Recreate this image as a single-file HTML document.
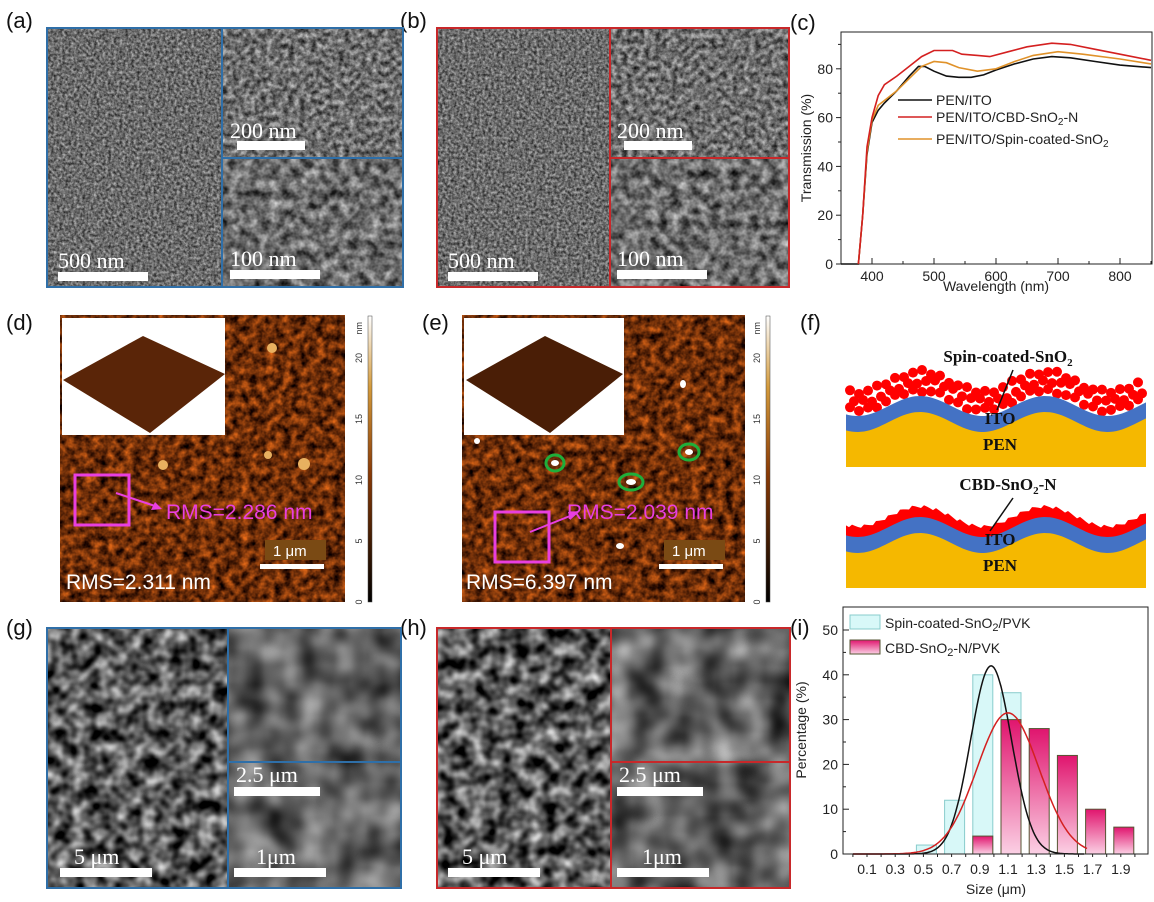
<!DOCTYPE html>
<html><head><meta charset="utf-8"><style>
html,body{margin:0;padding:0;background:#fff;width:1154px;height:902px;overflow:hidden}
svg{display:block}
filter{color-interpolation-filters:sRGB}
.lab{font-family:"Liberation Sans",sans-serif;font-size:22px;fill:#111}
.sb{font-family:"Liberation Serif",serif;font-size:22px;fill:#fff}
.ax{font-family:"Liberation Sans",sans-serif;font-size:14px;fill:#222}
.fb{font-family:"Liberation Serif",serif;font-weight:bold;font-size:17px;fill:#111}
</style></head><body>
<svg id="s" width="1154" height="902" xmlns="http://www.w3.org/2000/svg">
<defs>
<filter id="sem1" x="0" y="0" width="1" height="1" color-interpolation-filters="sRGB"><feTurbulence type="fractalNoise" baseFrequency="0.35" numOctaves="3" seed="3"/><feColorMatrix values="0.8 0 0 0 0.02 0.8 0 0 0 0.02 0.8 0 0 0 0.02 0 0 0 0 1"/></filter>
<filter id="sem2" x="0" y="0" width="1" height="1" color-interpolation-filters="sRGB"><feTurbulence type="fractalNoise" baseFrequency="0.18" numOctaves="3" seed="5"/><feColorMatrix values="0.9 0 0 0 -0.02 0.9 0 0 0 -0.02 0.9 0 0 0 -0.02 0 0 0 0 1"/></filter>
<filter id="sem3" x="0" y="0" width="1" height="1" color-interpolation-filters="sRGB"><feTurbulence type="fractalNoise" baseFrequency="0.1" numOctaves="3" seed="7"/><feColorMatrix values="1.0 0 0 0 -0.08 1.0 0 0 0 -0.08 1.0 0 0 0 -0.08 0 0 0 0 1"/></filter>
<filter id="grain" x="0" y="0" width="1" height="1" color-interpolation-filters="sRGB"><feTurbulence type="fractalNoise" baseFrequency="0.07" numOctaves="2" seed="11"/><feColorMatrix values="1.4 0 0 0 -0.35 1.4 0 0 0 -0.35 1.4 0 0 0 -0.35 0 0 0 0 1"/></filter>
<filter id="grain2" x="0" y="0" width="1" height="1" color-interpolation-filters="sRGB"><feTurbulence type="fractalNoise" baseFrequency="0.03" numOctaves="2" seed="13"/><feColorMatrix values="0.9 0 0 0 -0.07 0.9 0 0 0 -0.07 0.9 0 0 0 -0.07 0 0 0 0 1"/></filter>
<filter id="afm" x="0" y="0" width="1" height="1" color-interpolation-filters="sRGB"><feTurbulence type="fractalNoise" baseFrequency="0.12" numOctaves="3" seed="2"/><feColorMatrix values="1.2 0 0 0 -0.17 0.6 0 0 0 -0.12 0.15 0 0 0 -0.04 0 0 0 0 1"/></filter>
<linearGradient id="cb" x1="0" y1="1" x2="0" y2="0"><stop offset="0" stop-color="#000"/><stop offset="0.45" stop-color="#8a3a05"/><stop offset="0.75" stop-color="#d49a3a"/><stop offset="1" stop-color="#fff"/></linearGradient>
<linearGradient id="pk" x1="0" y1="0" x2="0" y2="1"><stop offset="0" stop-color="#e0156e"/><stop offset="1" stop-color="#fbd0e4"/></linearGradient>
</defs>

<text class="lab" x="6" y="28">(a)</text>
<text class="lab" x="400" y="28">(b)</text>
<text class="lab" x="790" y="30">(c)</text>
<text class="lab" x="6" y="330">(d)</text>
<text class="lab" x="422" y="330">(e)</text>
<text class="lab" x="800" y="330">(f)</text>
<text class="lab" x="6" y="635">(g)</text>
<text class="lab" x="400" y="635">(h)</text>
<text class="lab" x="790" y="635">(i)</text>

<rect x="47" y="28" width="356" height="259" filter="url(#sem1)"/>
<rect x="222" y="28" width="181" height="130" filter="url(#sem2)"/>
<rect x="222" y="158" width="181" height="129" filter="url(#sem3)"/>
<g fill="none" stroke="#2f6fa8" stroke-width="2"><rect x="47" y="28" width="356" height="259"/><line x1="222" y1="28" x2="222" y2="287"/><line x1="222" y1="158" x2="403" y2="158"/></g>
<text class="sb" x="230" y="138">200 nm</text><rect x="237" y="141" width="68" height="9" fill="#fff"/>
<text class="sb" x="58" y="268">500 nm</text><rect x="58" y="272" width="90" height="9" fill="#fff"/>
<text class="sb" x="230" y="266">100 nm</text><rect x="230" y="270" width="90" height="9" fill="#fff"/>

<rect x="437" y="28" width="352" height="259" filter="url(#sem1)"/>
<rect x="610" y="28" width="179" height="130" filter="url(#sem2)"/>
<rect x="610" y="158" width="179" height="129" filter="url(#sem3)"/>
<g fill="none" stroke="#c8282a" stroke-width="2"><rect x="437" y="28" width="352" height="259"/><line x1="610" y1="28" x2="610" y2="287"/><line x1="610" y1="158" x2="789" y2="158"/></g>
<text class="sb" x="617" y="138">200 nm</text><rect x="624" y="141" width="68" height="9" fill="#fff"/>
<text class="sb" x="448" y="268">500 nm</text><rect x="448" y="272" width="90" height="9" fill="#fff"/>
<text class="sb" x="617" y="266">100 nm</text><rect x="617" y="270" width="90" height="9" fill="#fff"/>

<g id="cplot"></g>

<rect x="60" y="315" width="285" height="287" filter="url(#afm)"/>
<g fill="#e8b060"><circle cx="304" cy="464" r="6"/><circle cx="272" cy="348" r="5"/><circle cx="163" cy="465" r="5"/><circle cx="268" cy="455" r="4"/></g>
<rect x="62" y="318" width="163" height="117" fill="#fff"/>
<polygon points="63,380 143,336 225,374 150,433" fill="#5a2508"/>
<rect x="75" y="475" width="54" height="50" fill="none" stroke="#e83fe0" stroke-width="3"/>
<line x1="116" y1="493" x2="158" y2="507" stroke="#e83fe0" stroke-width="2"/>
<polygon points="162,509 151,510 155,502" fill="#e83fe0"/>
<text x="166" y="519" font-family="Liberation Sans,sans-serif" font-size="21" fill="#e83fe0">RMS=2.286 nm</text>
<rect x="265" y="540" width="61" height="20" fill="#7a4a14"/>
<text x="273" y="556" font-family="Liberation Sans,sans-serif" font-size="15" fill="#fff">1 μm</text>
<rect x="260" y="564" width="64" height="5" fill="#fff"/>
<text x="66" y="589" font-family="Liberation Sans,sans-serif" font-size="21" fill="#fff">RMS=2.311 nm</text>
<rect x="368" y="316" width="4" height="286" fill="url(#cb)" stroke="#444" stroke-width="0.5"/>
<g id="cb1"></g>

<rect x="462" y="315" width="283" height="287" filter="url(#afm)"/>
<rect x="464" y="318" width="160" height="117" fill="#fff"/>
<polygon points="466,380 545,336 623,374 550,433" fill="#4a1e06"/>
<g fill="#fff"><ellipse cx="555" cy="463" rx="4" ry="3"/><ellipse cx="631" cy="482" rx="5" ry="3"/><ellipse cx="689" cy="452" rx="4" ry="3"/><ellipse cx="620" cy="546" rx="4" ry="3"/><ellipse cx="477" cy="441" rx="3" ry="3"/><ellipse cx="683" cy="384" rx="3" ry="4"/></g>
<g fill="none" stroke="#1fae3a" stroke-width="3"><ellipse cx="555" cy="463" rx="9" ry="8"/><ellipse cx="631" cy="482" rx="12" ry="8"/><ellipse cx="689" cy="452" rx="10" ry="8"/></g>
<rect x="495" y="512" width="54" height="50" fill="none" stroke="#e83fe0" stroke-width="3"/>
<line x1="530" y1="532" x2="575" y2="514" stroke="#e83fe0" stroke-width="2"/>
<polygon points="579,512 570,520 568,512" fill="#e83fe0"/>
<text x="567" y="519" font-family="Liberation Sans,sans-serif" font-size="21" fill="#e83fe0">RMS=2.039 nm</text>
<rect x="664" y="540" width="61" height="20" fill="#7a4a14"/>
<text x="672" y="556" font-family="Liberation Sans,sans-serif" font-size="15" fill="#fff">1 μm</text>
<rect x="659" y="564" width="64" height="5" fill="#fff"/>
<text x="466" y="589" font-family="Liberation Sans,sans-serif" font-size="21" fill="#fff">RMS=6.397 nm</text>
<rect x="766" y="316" width="4" height="286" fill="url(#cb)" stroke="#444" stroke-width="0.5"/>
<g id="cb2"></g>

<g id="fdiag"></g>

<rect x="47" y="628" width="354" height="260" filter="url(#grain)"/>
<rect x="228" y="628" width="173" height="134" filter="url(#grain2)"/>
<rect x="228" y="762" width="173" height="126" filter="url(#grain2)"/>
<g fill="none" stroke="#2f6fa8" stroke-width="2"><rect x="47" y="628" width="354" height="260"/><line x1="228" y1="628" x2="228" y2="888"/><line x1="228" y1="762" x2="401" y2="762"/></g>
<text class="sb" x="236" y="782">2.5 μm</text><rect x="234" y="787" width="86" height="9" fill="#fff"/>
<text class="sb" x="74" y="864">5 μm</text><rect x="60" y="868" width="92" height="9" fill="#fff"/>
<text class="sb" x="256" y="864">1μm</text><rect x="234" y="868" width="92" height="9" fill="#fff"/>

<rect x="437" y="628" width="353" height="260" filter="url(#grain)"/>
<rect x="611" y="628" width="179" height="134" filter="url(#grain2)"/>
<rect x="611" y="762" width="179" height="126" filter="url(#grain2)"/>
<g fill="none" stroke="#c8282a" stroke-width="2"><rect x="437" y="628" width="353" height="260"/><line x1="611" y1="628" x2="611" y2="888"/><line x1="611" y1="762" x2="790" y2="762"/></g>
<text class="sb" x="619" y="782">2.5 μm</text><rect x="617" y="787" width="86" height="9" fill="#fff"/>
<text class="sb" x="462" y="864">5 μm</text><rect x="448" y="868" width="92" height="9" fill="#fff"/>
<text class="sb" x="642" y="864">1μm</text><rect x="617" y="868" width="92" height="9" fill="#fff"/>

<g id="iplot"></g>
</svg>
<script>
var NS="http://www.w3.org/2000/svg";
function el(p,t,a,txt){var e=document.createElementNS(NS,t);for(var k in a)e.setAttribute(k,a[k]);if(txt!=null)e.textContent=txt;p.appendChild(e);return e;}
var c=document.getElementById('cplot');
function cx(l){return 841+(l-350)*0.62;} function cy(t){return 264-t*2.44;}
el(c,'rect',{x:841,y:32,width:311,height:232,fill:'none',stroke:'#222','stroke-width':1});
[0,20,40,60,80].forEach(function(v){el(c,'line',{x1:841,x2:836,y1:cy(v),y2:cy(v),stroke:'#222'});el(c,'text',{class:'ax',x:833,y:cy(v)+5,'text-anchor':'end','font-size':15},v);});
[10,30,50,70,90].forEach(function(v){el(c,'line',{x1:841,x2:838,y1:cy(v),y2:cy(v),stroke:'#222'});});
for(var l=400;l<=850;l+=50){el(c,'line',{x1:cx(l),x2:cx(l),y1:264,y2:l%100?261:258,stroke:'#222'});if(l%100==0)el(c,'text',{class:'ax',x:cx(l),y:281,'text-anchor':'middle','font-size':15},l);}
el(c,'text',{class:'ax',x:996,y:291,'text-anchor':'middle','font-size':15},'Wavelength (nm)');
el(c,'text',{class:'ax',transform:'translate(811,148) rotate(-90)','text-anchor':'middle','font-size':15},'Transmission (%)');
function pl(d,col){var s='';d.forEach(function(p,i){s+=(i?'L':'M')+cx(p[0]).toFixed(1)+','+cy(p[1]).toFixed(1);});el(c,'path',{d:s,fill:'none',stroke:col,'stroke-width':1.6});}
var blk=[[350,0],[378,0],[385,20],[392,45],[400,58],[410,63],[420,66],[440,71],[460,77],[475,81],[485,81],[500,79],[520,77],[540,76.5],[560,76.5],[580,77.5],[600,79.5],[630,82],[660,84],[690,85],[720,84.5],[760,83],[800,81.5],[850,80.5]];
var org=[[378,0],[385,20],[392,46],[400,59],[410,65],[420,67],[440,71],[460,76],[480,81],[500,83],[520,82.5],[540,80.5],[570,79],[600,80],[630,83],[660,85.5],[700,87],[740,86],[800,84],[850,82]];
var red=[[378,0],[385,20],[392,48],[400,60],[410,69],[420,73.5],[440,77],[460,81],[480,85],[500,87.5],[530,87.5],[545,86],[570,85.5],[590,85],[620,87],[650,89],[690,90.5],[720,90],[760,88],[800,86],[850,83.5]];
pl(blk,'#111');pl(org,'#e0922a');pl(red,'#d42020');
[['PEN/ITO','#111',100],['PEN/ITO/CBD-SnO','#d42020',117],['PEN/ITO/Spin-coated-SnO','#e0922a',139]].forEach(function(r,i){
 el(c,'line',{x1:898,x2:932,y1:r[2],y2:r[2],stroke:r[1],'stroke-width':1.6});
 var t=el(c,'text',{class:'ax',x:936,y:r[2]+5},r[0]);
 if(i>0){el(t,'tspan',{dy:3,'font-size':10},'2');if(i==1)el(t,'tspan',{dy:-3},'-N');}
});
[['cb1',372],['cb2',770]].forEach(function(q){var g=document.getElementById(q[0]);
 [0,5,10,15,20].forEach(function(v){var y=602-v*12.2;el(g,'text',{transform:'translate('+(q[1]-10)+','+y+') rotate(-90)','font-family':'Liberation Sans,sans-serif','font-size':9,fill:'#333','text-anchor':'middle'},v);});
 el(g,'text',{transform:'translate('+(q[1]-10)+',322) rotate(-90)','font-family':'Liberation Sans,sans-serif','font-size':9,fill:'#333','text-anchor':'end'},'nm');});
var f=document.getElementById('fdiag');
function wave(x,base){return base-10*Math.cos((x-920)/125*2*Math.PI);}
function drawF(y0,yb,spin,label,ly){
 var L=846,R=1146,s='M'+L+','+yb;var sb='M'+L+','+yb;
 for(var x=L;x<=R;x+=3){s+='L'+x+','+wave(x,y0).toFixed(1);}
 s+='L'+R+','+yb+'Z';
 for(var x=L;x<=R;x+=3){sb+='L'+x+','+(wave(x,y0)-16).toFixed(1);}
 sb+='L'+R+','+yb+'Z';
 if(spin){for(var x=L+4;x<=R-3;x+=9){for(var k=0;k<3;k++){var yy=wave(x,y0)-22-k*9+((x*7+k*13)%5)-2;el(f,'circle',{cx:x+(k%2)*4,cy:yy,r:5,fill:'#f00'});}}}
 else{var sr='M'+L+','+yb;for(var x=L;x<=R;x+=3){sr+='L'+x+','+(wave(x,y0)-28+((x*3)%4)).toFixed(1);}sr+='L'+R+','+yb+'Z';el(f,'path',{d:sr,fill:'#f00'});}
 el(f,'path',{d:sb,fill:'#4472c4'});
 el(f,'path',{d:s,fill:'#f5b800'});
 el(f,'text',{class:'fb',x:1000,y:y0+2,'text-anchor':'middle'},'ITO');
 el(f,'text',{class:'fb',x:1000,y:y0+28,'text-anchor':'middle'},'PEN');
 var t=el(f,'text',{class:'fb',x:1008,y:ly,'text-anchor':'middle'},label);
 el(t,'tspan',{dy:4,'font-size':11},'2');if(!spin)el(t,'tspan',{dy:-4},'-N');
 el(f,'line',{x1:1013,y1:ly+8,x2:spin?997:990,y2:y0-12,stroke:'#111','stroke-width':1.5});
}
drawF(422,467,true,'Spin-coated-SnO',362);
drawF(543,588,false,'CBD-SnO',490);
var g=document.getElementById('iplot');
function ix(v){return 867+(v-0.1)/0.2*28.2;} function iy(p){return 854-p*4.48;}
[[0.5,2],[0.7,12],[0.9,40],[1.1,36]].forEach(function(b){el(g,'rect',{x:ix(b[0])-7,y:iy(b[1]),width:20,height:854-iy(b[1]),fill:'#d8f8f8',stroke:'#8cc',"stroke-width":1});});
[[0.9,4],[1.1,30],[1.3,28],[1.5,22],[1.7,10],[1.9,6]].forEach(function(b){el(g,'rect',{x:ix(b[0])-7,y:iy(b[1]),width:20,height:854-iy(b[1]),fill:'url(#pk)',stroke:'#553',"stroke-width":1});});
function gs(a,m,sd,x0,x1,col){var s='';for(var v=x0;v<=x1;v+=0.01){s+=(s?'L':'M')+ix(v).toFixed(1)+','+iy(a*Math.exp(-(v-m)*(v-m)/(2*sd*sd))).toFixed(1);}el(g,'path',{d:s,fill:'none',stroke:col,'stroke-width':1.5});}
gs(42,0.98,0.145,0.0,1.65,'#111');gs(31.5,1.1,0.22,0.0,1.67,'#d42020');
el(g,'rect',{x:843,y:607,width:305,height:247,fill:'none',stroke:'#222'});
for(var p=0;p<=50;p+=5){el(g,'line',{x1:843,x2:p%10?846:849,y1:iy(p),y2:iy(p),stroke:'#222'});if(p%10==0)el(g,'text',{class:'ax',x:838,y:iy(p)+5,'text-anchor':'end','font-size':15},p);}
for(var v=0.0;v<=2.05;v+=0.1){var xx=ix(v);if(xx<843||xx>1148)continue;el(g,'line',{x1:xx,x2:xx,y1:854,y2:857,stroke:'#222'});}
for(var v=0.1;v<=1.95;v+=0.2){el(g,'text',{class:'ax',x:ix(v),y:874,'text-anchor':'middle','font-size':15},v.toFixed(1));}
el(g,'text',{class:'ax',x:996,y:894,'text-anchor':'middle','font-size':16},'Size (μm)');
el(g,'text',{class:'ax',transform:'translate(806,730) rotate(-90)','text-anchor':'middle','font-size':16},'Percentage (%)');
el(g,'rect',{x:850,y:615,width:30,height:14,fill:'#d8f8f8',stroke:'#8cc'});
el(g,'rect',{x:850,y:640,width:30,height:14,fill:'url(#pk)',stroke:'#553'});
var t1=el(g,'text',{class:'ax',x:885,y:628,'font-size':16},'Spin-coated-SnO');el(t1,'tspan',{dy:3,'font-size':11},'2');el(t1,'tspan',{dy:-3},'/PVK');
var t2=el(g,'text',{class:'ax',x:885,y:653,'font-size':16},'CBD-SnO');el(t2,'tspan',{dy:3,'font-size':11},'2');el(t2,'tspan',{dy:-3},'-N/PVK');
</script>
</body></html>
